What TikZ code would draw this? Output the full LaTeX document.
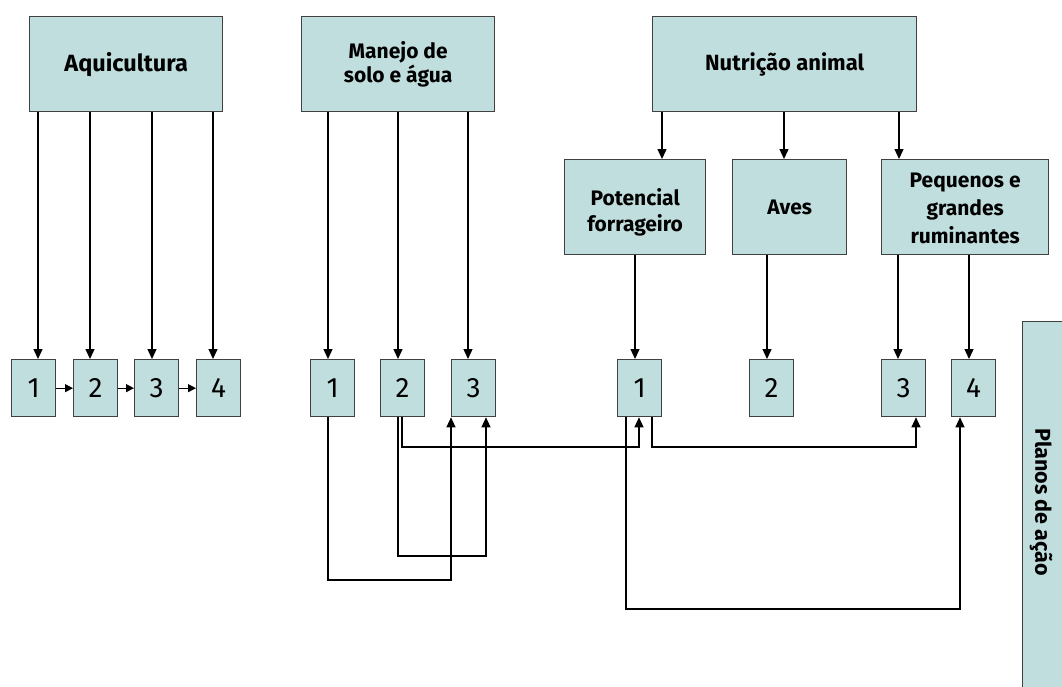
\documentclass[tikz,border=0pt]{standalone}
\usepackage{fontspec}
\setmainfont{Fira Sans}
\usetikzlibrary{arrows.meta}
\definecolor{boxfill}{RGB}{192,222,221}
\definecolor{boxline}{RGB}{64,64,64}
\tikzset{
  titlefont/.style={font=\bfseries\fontsize{21}{24.5}\selectfont},
  box/.style={draw=boxline, fill=boxfill, line width=1.3pt, inner sep=0pt,
    anchor=north west, align=center, titlefont},
  topbox/.style={box, minimum height=95pt},
  boxtext/.style={align=center, inner sep=0pt,
    font=\bfseries\fontsize{21}{26.5}\selectfont},
  num/.style={box, minimum width=44pt, minimum height=57pt,
    font=\fontsize{28}{30}\selectfont},
  link/.style={draw=black, line width=1.3pt},
  arr/.style={link, -{Triangle[length=10pt,width=9pt]}},
  sarr/.style={link, -{Triangle[length=8pt,width=8pt]}},
}
\begin{document}
\begin{tikzpicture}[x=1pt,y=-1pt]
\clip (0,0) rectangle (1062,686);
\fill[white] (0,0) rectangle (1062,686);

% main themes
\node[topbox, minimum width=193pt, font=\bfseries\fontsize{23.5}{26}\selectfont]
  (aq) at (29,16) {Aquicultura};
\node[topbox, minimum width=193pt] (ms) at (301,16) {Manejo de\\solo e água};
\node[topbox, minimum width=264pt, font=\bfseries\fontsize{22}{26}\selectfont]
  (na) at (652,16) {Nutrição animal};

% sub-themes of animal nutrition
\node[topbox, minimum width=141pt,
  label={[name=pft, boxtext, yshift=-5pt]center:Potencial\\forrageiro}]
  (pf) at (564,159) {};
\node[topbox, minimum width=114pt] (av) at (732,159) {Aves};
\node[topbox, minimum width=167pt,
  label={[name=pgt, boxtext, font=\bfseries\fontsize{21}{28}\selectfont,
          yshift=-1pt]center:Pequenos e\\grandes\\ruminantes}]
  (pg) at (881,159) {};

% action plans
\node[num] (a1) at (11,359) {1};
\node[num] (a2) at (73,359) {2};
\node[num] (a3) at (134,359) {3};
\node[num] (a4) at (196,359) {4};

\node[num] (m1) at (310,359) {1};
\node[num] (m2) at (380,359) {2};
\node[num] (m3) at (451,359) {3};

\node[num] (n1) at (617,359) {1};
\node[num] (n2) at (749,359) {2};
\node[num] (n3) at (881,359) {3};
\node[num] (n4) at (951,359) {4};

% side label, running past the page edge
\node[box, minimum width=50pt, minimum height=380pt] (pa) at (1022,321) {};
\node[boxtext, rotate=-90, font=\bfseries\fontsize{21.5}{26}\selectfont]
  (pat) at (1041,502) {Planos de ação};

% theme -> plans
\draw[arr] (aq.south -| 38,0) -- (a1.north -| 38,0);
\draw[arr] (aq.south -| 90,0) -- (a2.north -| 90,0);
\draw[arr] (aq.south -| 152,0) -- (a3.north -| 152,0);
\draw[arr] (aq.south -| 213,0) -- (a4.north -| 213,0);

\draw[sarr] (a1) -- (a2);
\draw[sarr] (a2) -- (a3);
\draw[sarr] (a3) -- (a4);

\draw[arr] (ms.south -| 328,0) -- (m1.north -| 328,0);
\draw[arr] (ms.south -| 398,0) -- (m2.north -| 398,0);
\draw[arr] (ms.south -| 468,0) -- (m3.north -| 468,0);

\draw[arr] (na.south -| 662,0) -- (pf.north -| 662,0);
\draw[arr] (na.south -| 784,0) -- (av.north -| 784,0);
\draw[arr] (na.south -| 899,0) -- (pg.north -| 899,0);

\draw[arr] (pf.south -| 635,0) -- (n1.north -| 635,0);
\draw[arr] (av.south -| 767,0) -- (n2.north -| 767,0);
\draw[arr] (pg.south -| 898,0) -- (n3.north -| 898,0);
\draw[arr] (pg.south -| 969,0) -- (n4.north -| 969,0);

% links between plans
\draw[arr] (m1.south -| 328,0) -- (328,580) -| (m3.south -| 451,0);
\draw[arr] (m2.south -| 398,0) -- (398,556) -| (m3.south -| 486,0);
\draw[arr] (m2.south -| 402,0) -- (402,447) -| (n1.south -| 639,0);
\draw[arr] (n1.south -| 652,0) -- (652,447) -| (n3.south -| 916,0);
\draw[arr] (n1.south -| 626,0) -- (626,609) -| (n4.south -| 960,0);
\end{tikzpicture}
\end{document}
